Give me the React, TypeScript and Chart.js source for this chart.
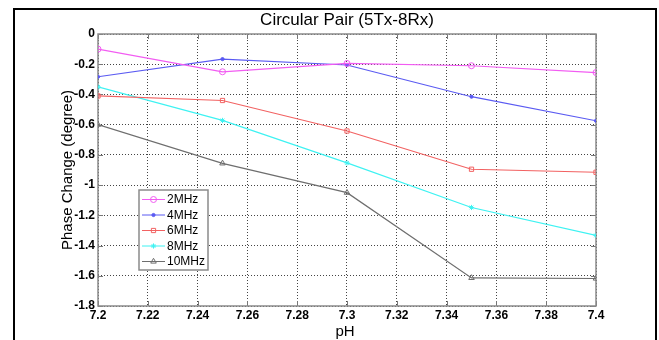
import React, { useEffect, useRef } from 'react';
import { Chart, registerables } from 'chart.js';
import { drawPoint } from 'chart.js/helpers';

Chart.register(...registerables);

const TITLE = 'Circular Pair (5Tx-8Rx)';
const X_LABEL = 'pH';
const Y_LABEL = 'Phase Change (degree)';

const PH = [7.2, 7.25, 7.3, 7.35, 7.4];
const SERIES_NAMES = ['2MHz', '4MHz', '6MHz', '8MHz', '10MHz'];
const MHZ2 = [-0.10, -0.25, -0.195, -0.21, -0.255];
const MHZ4 = [-0.283, -0.166, -0.205, -0.415, -0.574];
const MHZ6 = [-0.41, -0.44, -0.642, -0.895, -0.915];
const MHZ8 = [-0.35, -0.572, -0.853, -1.148, -1.333];
const MHZ10 = [-0.60, -0.856, -1.05, -1.614, -1.618];

const X_TICKS = [7.2, 7.22, 7.24, 7.26, 7.28, 7.3, 7.32, 7.34, 7.36, 7.38, 7.4];
const Y_TICKS = [0, -0.2, -0.4, -0.6, -0.8, -1, -1.2, -1.4, -1.6, -1.8];

const COLORS = ['#f25cf2', '#5a5af2', '#f26262', '#3ef2f2', '#6e6e6e'];
const STYLES = ['circle', 'circle', 'rect', 'star', 'triangle'];
const RADII = [3, 1.6, 3, 2.6, 3.2];
const FILLED = [false, true, false, true, false];

const VALUES = [MHZ2, MHZ4, MHZ6, MHZ8, MHZ10];

const FONT = '"Liberation Sans", Arial, Helvetica, sans-serif';

const decorPlugin = {
  id: 'decor',
  beforeDraw(chart: any) {
    const ctx = chart.ctx;
    ctx.save();
    ctx.fillStyle = '#ffffff';
    ctx.fillRect(0, 0, chart.width, chart.height);
    // outer figure frame
    ctx.strokeStyle = '#000000';
    ctx.lineWidth = 2;
    ctx.strokeRect(14, 9, 642, 340);
    ctx.restore();
  },
  beforeDatasetsDraw(chart: any) {
    const ctx = chart.ctx;
    const a = chart.chartArea;
    const xs = chart.scales.x;
    const ys = chart.scales.y;
    ctx.save();
    // inward tick marks
    ctx.strokeStyle = '#777777';
    ctx.lineWidth = 1;
    ctx.beginPath();
    X_TICKS.forEach((v) => {
      const px = Math.round(xs.getPixelForValue(v)) + 0.5;
      ctx.moveTo(px, a.bottom);
      ctx.lineTo(px, a.bottom - 5);
      ctx.moveTo(px, a.top);
      ctx.lineTo(px, a.top + 5);
    });
    Y_TICKS.forEach((v) => {
      const py = Math.round(ys.getPixelForValue(v)) + 0.5;
      ctx.moveTo(a.left, py);
      ctx.lineTo(a.left + 5, py);
      ctx.moveTo(a.right, py);
      ctx.lineTo(a.right - 5, py);
    });
    ctx.stroke();
    // axes box
    ctx.strokeStyle = '#8a8a8a';
    ctx.lineWidth = 1.5;
    ctx.strokeRect(a.left, a.top, a.right - a.left, a.bottom - a.top);
    ctx.restore();
  },
  afterDraw(chart: any) {
    const ctx = chart.ctx;
    const a = chart.chartArea;
    ctx.save();
    ctx.fillStyle = '#000000';
    // title
    ctx.font = `17px ${FONT}`;
    ctx.textAlign = 'center';
    ctx.textBaseline = 'alphabetic';
    ctx.fillText(TITLE, (a.left + a.right) / 2, 25);
    // x label
    ctx.font = `15px ${FONT}`;
    ctx.fillText(X_LABEL, (a.left + a.right) / 2 - 2, 336);
    // y label
    ctx.save();
    ctx.translate(68, (a.top + a.bottom) / 2);
    ctx.rotate(-Math.PI / 2);
    ctx.textBaseline = 'middle';
    ctx.fillText(Y_LABEL, 0, 0);
    ctx.restore();

    // legend
    const lx = 139, ly = 190, lw = 69, lh = 80;
    ctx.fillStyle = '#ffffff';
    ctx.fillRect(lx, ly, lw, lh);
    ctx.strokeStyle = '#8a8a8a';
    ctx.lineWidth = 1.5;
    ctx.strokeRect(lx, ly, lw, lh);
    ctx.font = `12px ${FONT}`;
    ctx.textAlign = 'left';
    ctx.textBaseline = 'middle';
    chart.data.datasets.forEach((ds: any, i: number) => {
      const y = ly + 9.5 + i * 15.5;
      ctx.strokeStyle = ds.borderColor;
      ctx.lineWidth = 1;
      ctx.beginPath();
      ctx.moveTo(lx + 3, y);
      ctx.lineTo(lx + 26, y);
      ctx.stroke();
      ctx.fillStyle = ds.pointBackgroundColor;
      ctx.strokeStyle = ds.borderColor;
      drawPoint(ctx, { pointStyle: ds.pointStyle, radius: ds.pointRadius, rotation: 0, borderWidth: 1 }, lx + 14.5, y);
      ctx.fillStyle = '#000000';
      ctx.fillText(ds.label, lx + 28, y + 0.5);
    });
    ctx.restore();
  },
};

const fmt = (v: number, d: number) => String(parseFloat(Number(v).toFixed(d)));

export default function App() {
  const ref = useRef<HTMLCanvasElement | null>(null);

  useEffect(() => {
    if (!ref.current) return;
    const chart = new Chart(ref.current, {
      type: 'line',
      data: {
        datasets: SERIES_NAMES.map((name, i) => ({
          label: name,
          data: PH.map((x, j) => ({ x, y: VALUES[i][j] })),
          borderColor: COLORS[i],
          backgroundColor: COLORS[i],
          pointBackgroundColor: FILLED[i] ? COLORS[i] : 'rgba(0,0,0,0)',
          pointBorderColor: COLORS[i],
          pointStyle: STYLES[i],
          pointRadius: RADII[i],
          pointBorderWidth: 1,
          borderWidth: 1.2,
          tension: 0,
          fill: false,
        })),
      },
      options: {
        animation: false,
        responsive: false,
        maintainAspectRatio: false,
        events: [],
        layout: { padding: { top: 34, right: 63, left: 0, bottom: 0 } },
        plugins: {
          legend: { display: false },
          title: { display: false },
          tooltip: { enabled: false },
        },
        scales: {
          x: {
            type: 'linear',
            min: 7.2,
            max: 7.4,
            afterFit: (s: any) => { s.height = 34; },
            afterBuildTicks: (s: any) => { s.ticks = X_TICKS.map((v) => ({ value: v })); },
            ticks: {
              autoSkip: false,
              maxRotation: 0,
              padding: 2,
              color: '#000000',
              font: { family: FONT, size: 12, weight: 'bold' },
              callback: (v: any) => fmt(v, 2),
            },
            grid: { color: '#444444', lineWidth: 1, drawTicks: false },
            border: { display: false, dash: [1, 2] },
          },
          y: {
            type: 'linear',
            min: -1.8,
            max: 0,
            afterFit: (s: any) => { s.width = 98; },
            afterBuildTicks: (s: any) => { s.ticks = Y_TICKS.map((v) => ({ value: v })); },
            ticks: {
              autoSkip: false,
              padding: 3,
              color: '#000000',
              font: { family: FONT, size: 12, weight: 'bold' },
              callback: (v: any) => fmt(v, 1),
            },
            grid: { color: '#444444', lineWidth: 1, drawTicks: false },
            border: { display: false, dash: [1, 2] },
          },
        },
      },
      plugins: [decorPlugin],
    });
    return () => chart.destroy();
  }, []);

  return (
    <div style={{ position: 'fixed', left: 0, top: 0, width: 659, height: 340, background: '#fff' }}>
      <canvas ref={ref} width={659} height={340} style={{ width: 659, height: 340, display: 'block' }} />
    </div>
  );
}
